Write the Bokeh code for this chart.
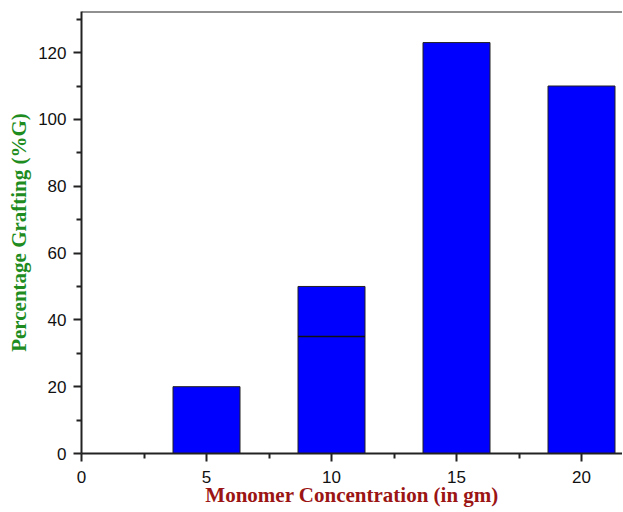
from bokeh.plotting import figure
from bokeh.models import Range1d, FixedTicker, ColumnDataSource, Span
from bokeh.embed import file_html
from bokeh.resources import INLINE

# Data
concentration = [5, 10, 15, 20]
grafting = [20, 50, 123, 110]
inner_x = [10]
inner_val = [35]
x_ticks = [0, 5, 10, 15, 20]
x_minor = [2.5, 7.5, 12.5, 17.5]
y_ticks = [0, 20, 40, 60, 80, 100, 120]
y_minor = [10, 30, 50, 70, 90, 110, 130]

bar_w = 2.68

p = figure(width=622, height=512, output_backend="svg", toolbar_location=None,
           x_range=Range1d(0, 21.64), y_range=Range1d(0, 132.3),
           min_border_left=81, min_border_right=0, min_border_top=11, min_border_bottom=59)

p.xgrid.grid_line_color = None
p.ygrid.grid_line_color = None
p.outline_line_color = None

src = ColumnDataSource(dict(x=concentration, top=grafting))
p.vbar(x="x", top="top", bottom=0, width=bar_w, source=src,
       fill_color="#0000FF", line_color="#222222", line_width=1)
src2 = ColumnDataSource(dict(x0=[x - bar_w / 2 for x in inner_x],
                             x1=[x + bar_w / 2 for x in inner_x], y=inner_val))
p.segment(x0="x0", y0="y", x1="x1", y1="y", source=src2,
          line_color="#111111", line_width=1.5)

for ax in (p.xaxis[0], p.yaxis[0]):
    ax.axis_line_width = 2
    ax.axis_line_color = "#222222"
    ax.major_tick_line_width = 2
    ax.minor_tick_line_width = 2
    ax.major_tick_line_color = "#222222"
    ax.minor_tick_line_color = "#222222"
    ax.major_tick_out = 8
    ax.major_tick_in = 0
    ax.minor_tick_out = 5
    ax.minor_tick_in = 0
    ax.major_label_text_font = "Liberation Sans"
    ax.major_label_text_font_size = "17px"
    ax.major_label_text_color = "#111111"
    ax.axis_label_text_font = "Liberation Serif"
    ax.axis_label_text_font_style = "bold"
    ax.axis_label_text_font_size = "21px"

p.xaxis.ticker = FixedTicker(ticks=x_ticks, minor_ticks=x_minor)
p.yaxis.ticker = FixedTicker(ticks=y_ticks, minor_ticks=y_minor)
p.xaxis.major_label_standoff = 9
p.yaxis.major_label_standoff = 7
p.xaxis.axis_label = "Monomer Concentration (in gm)"
p.xaxis.axis_label_text_color = "#9B1515"
p.xaxis.axis_label_standoff = -3
p.yaxis.axis_label = "Percentage Grafting (%G)"
p.yaxis.axis_label_text_color = "#1E8C1E"
p.yaxis.axis_label_standoff = 4

p.add_layout(Span(location=132.3, dimension="width", line_color="#222222", line_width=2))

open("out.html", "w").write(file_html(p, INLINE))
